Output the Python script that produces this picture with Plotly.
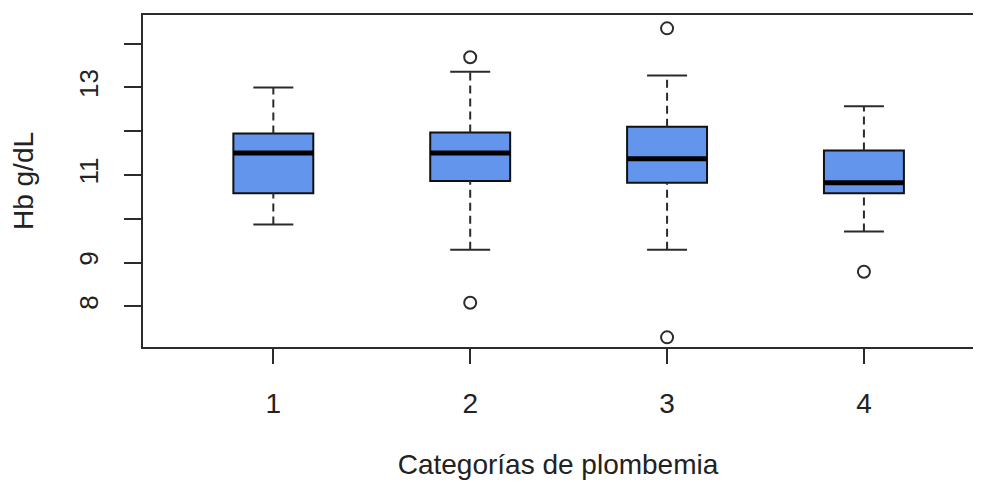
import plotly.graph_objects as go

# ---- data ----
categories = [1, 2, 3, 4]
q1 = [10.58, 10.86, 10.82, 10.58]
medians = [11.50, 11.50, 11.37, 10.82]
q3 = [11.95, 11.97, 12.10, 11.56]
whisker_low = [9.87, 9.29, 9.29, 9.71]
whisker_high = [13.00, 13.36, 13.27, 12.57]
outlier_x = [2, 2, 3, 3, 4]
outlier_y = [13.69, 8.08, 14.35, 7.29, 8.79]

y_tickvals = [8, 9, 10, 11, 12, 13, 14]
y_ticktext = ["8", "9", "", "11", "", "13", ""]

BOX_W = 0.406
CAP_W = BOX_W / 2
FILL = "#6495ED"
INK = "#2b2b2b"
FONT = "Liberation Sans, Arial, sans-serif"

fig = go.Figure()

# dashed whiskers and solid caps
for c, lo, hi, a, b in zip(categories, whisker_low, whisker_high, q1, q3):
    for y0, y1 in ((lo, a), (b, hi)):
        fig.add_trace(go.Scatter(x=[c, c], y=[y0, y1], mode="lines",
                                 line=dict(color=INK, width=2, dash="8px,5px"),
                                 showlegend=False, hoverinfo="skip"))
    for yy in (lo, hi):
        fig.add_trace(go.Scatter(x=[c - CAP_W / 2, c + CAP_W / 2], y=[yy, yy], mode="lines",
                                 line=dict(color=INK, width=2),
                                 showlegend=False, hoverinfo="skip"))

# boxes
fig.add_trace(go.Box(
    x=categories, q1=q1, median=medians, q3=q3,
    lowerfence=q1, upperfence=q3,
    width=BOX_W, whiskerwidth=0,
    fillcolor=FILL, line=dict(color="#111111", width=2),
    boxpoints=False, showlegend=False,
))

# thick medians
for c, m in zip(categories, medians):
    fig.add_trace(go.Scatter(x=[c - BOX_W / 2, c + BOX_W / 2], y=[m, m], mode="lines",
                             line=dict(color="black", width=5),
                             showlegend=False, hoverinfo="skip"))

# outliers
fig.add_trace(go.Scatter(x=outlier_x, y=outlier_y, mode="markers",
                         marker=dict(symbol="circle-open", size=12,
                                     line=dict(color=INK, width=2), color=INK),
                         showlegend=False))

fig.update_layout(
    width=965, height=472,
    margin=dict(l=135, r=0, t=7, b=133),
    paper_bgcolor="white", plot_bgcolor="white",
    font=dict(family=FONT, color="#222222"),
    xaxis=dict(
        range=[0.338, 4.554],
        tickmode="array", tickvals=categories, ticktext=[str(c) for c in categories],
        ticks="outside", ticklen=15, tickwidth=2, tickcolor=INK,
        showline=True, linecolor=INK, linewidth=2, mirror=True,
        showgrid=False, zeroline=False,
        tickfont=dict(size=28, family=FONT, color="#222222"),
        ticklabelstandoff=15,
        title=dict(text="Categorías de plombemia", font=dict(size=28, family=FONT, color="#222222"),
                   standoff=43),
    ),
    yaxis=dict(
        range=[7.07, 14.655],
        tickmode="array", tickvals=y_tickvals, ticktext=y_ticktext,
        ticks="outside", ticklen=17, tickwidth=2, tickcolor=INK,
        showline=True, linecolor=INK, linewidth=2, mirror=False,
        showgrid=False, zeroline=False,
        tickangle=-90,
        tickfont=dict(size=26, family=FONT, color="#222222"),
        ticklabelstandoff=16,
        title=dict(text="Hb g/dL", font=dict(size=28, family=FONT, color="#222222"),
                   standoff=35),
    ),
)

fig.write_html("out.html")
